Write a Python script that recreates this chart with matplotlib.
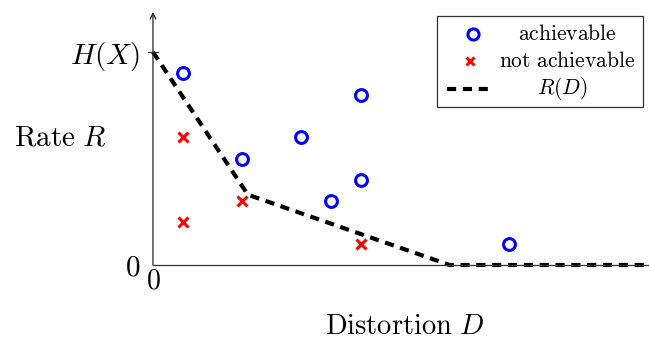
import matplotlib.pyplot as plt
from matplotlib.patches import Rectangle

plt.rcParams['mathtext.fontset'] = 'cm'
plt.rcParams['font.family'] = ['DejaVu Serif']

# achievable (D, R) pairs
ach_d = [0.5, 1.5, 2.5, 3.5, 3.0, 3.5, 6.0]
ach_r = [0.9, 0.5, 0.6, 0.8, 0.3, 0.4, 0.1]

# not achievable pairs
nach_d = [0.5, 0.5, 1.5, 3.5]
nach_r = [0.6, 0.2, 0.3, 0.1]

# rate-distortion curve
rd_d = [0.0, 1.6, 5.0, 8.4]
rd_r = [1.0, 0.33, 0.0, 0.0]

fig = plt.figure(figsize=(6.49, 3.39), dpi=100)
ax = fig.add_axes([0.2357, 0.2183, 0.7643, 0.7463])
ax.set_xlim(0, 8.36)
ax.set_ylim(0, 1.188)

for s in ['top', 'right', 'left']:
    ax.spines[s].set_visible(False)
ax.spines['bottom'].set_linewidth(0.9)
ax.spines['bottom'].set_color('#333333')

# y-axis with arrow
ax.annotate('', xy=(0, 1.188), xytext=(0, 0), xycoords='data',
            arrowprops=dict(arrowstyle='->', lw=0.9, color='#222222',
                            shrinkA=0, shrinkB=0), annotation_clip=False)

ax.plot(rd_d, rd_r, color='black', ls=(0, (2.2, 1.6)), lw=3, clip_on=False, zorder=2)
ax.plot(ach_d, ach_r, 'o', ms=8.5, mfc='none', mec='#0000ff', mew=2.2, zorder=3)
ax.plot(nach_d, nach_r, 'x', ms=6.5, color='#ff0000', mew=2.2, zorder=3)

ax.set_xticks([0])
ax.set_xticklabels([r'$0$'], fontsize=20)
ax.set_yticks([0, 1])
ax.set_yticklabels([r'$0$', r'$H(X)$'], fontsize=21)
ax.tick_params(axis='x', length=0, pad=2)
ax.tick_params(axis='y', length=0, pad=9)
# crossing tick at H(X)
ax.plot([-0.08, 0.08], [1, 1], color='#333333', lw=0.9, clip_on=False)

ax.set_xlabel(r'$\mathrm{Distortion}\ D$', fontsize=20.5, va='center')
ax.xaxis.set_label_coords(0.508, -0.245)
ax.set_ylabel(r'$\mathrm{Rate}\ R$', fontsize=21, rotation=0, ha='center', va='center')
ax.yaxis.set_label_coords(-0.1875, 0.502)

# legend box (drawn by hand to center labels)
W, H = 649.0, 339.0
def fx(px):
    return px / W
def fy(py):
    return 1 - py / H

fig.patches.append(Rectangle((fx(437), fy(107)), fx(643) - fx(437), fy(16) - fy(107),
                             transform=fig.transFigure, fill=True, fc='white',
                             ec='#333333', lw=0.9, zorder=5))
fig.add_artist(plt.Line2D([fx(473)], [fy(34)], marker='o', ms=8, mfc='none',
                          mec='#0000ff', mew=2.2, transform=fig.transFigure, zorder=6))
fig.add_artist(plt.Line2D([fx(470)], [fy(61)], marker='x', ms=6, color='#ff0000',
                          mew=2.2, transform=fig.transFigure, zorder=6))
fig.add_artist(plt.Line2D([fx(447), fx(488)], [fy(89), fy(89)], color='black', lw=3,
                          ls=(0, (2.2, 1.6)), transform=fig.transFigure, zorder=6))
fig.text(fx(567), fy(34), r'$\mathrm{achievable}$', fontsize=15.5, ha='center', va='center', zorder=6)
fig.text(fx(567), fy(61), r'$\mathrm{not\ achievable}$', fontsize=15.5, ha='center', va='center', zorder=6)
fig.text(fx(562), fy(89), r'$R(D)$', fontsize=15.5, ha='center', va='center', zorder=6)

fig.savefig('out.png', dpi=100)
